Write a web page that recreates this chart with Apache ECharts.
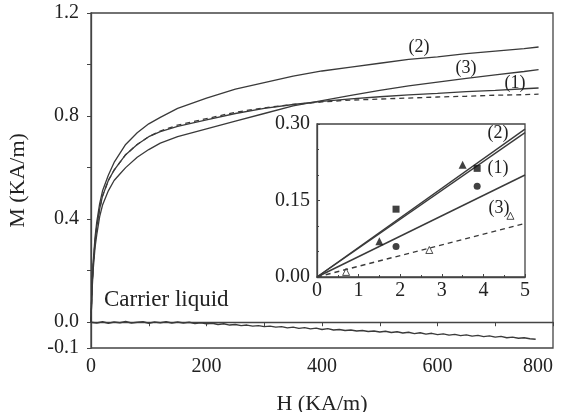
<!DOCTYPE html>
<html><head><meta charset="utf-8">
<script src="https://cdn.jsdelivr.net/npm/echarts@6/dist/echarts.min.js"></script>
<style>html,body{margin:0;padding:0;background:#fff}#c{width:562px;height:412px}</style>
</head><body><div id="c"></div>
<script>
// Main chart data
const H = [0,1,2,4,7,10,15,20,30,40,50,60,80,100,120,150,200,250,300,350,400,450,500,550,600,650,700,750,775];
const curve2 = [0,0.08,0.15,0.24,0.33,0.39,0.46,0.51,0.57,0.62,0.655,0.69,0.735,0.77,0.795,0.83,0.87,0.905,0.93,0.955,0.975,0.99,1.005,1.02,1.03,1.042,1.052,1.062,1.068];
const curve1 = [0,0.08,0.15,0.23,0.31,0.37,0.44,0.49,0.55,0.59,0.62,0.65,0.69,0.72,0.74,0.76,0.785,0.81,0.83,0.845,0.857,0.867,0.875,0.882,0.888,0.895,0.9,0.906,0.909];
const curveFit = [0,0.08,0.15,0.23,0.31,0.37,0.44,0.49,0.55,0.59,0.62,0.65,0.69,0.72,0.742,0.765,0.79,0.815,0.832,0.845,0.855,0.862,0.866,0.870,0.874,0.877,0.881,0.883,0.885];
const curve3 = [0,0.07,0.13,0.21,0.29,0.34,0.41,0.455,0.51,0.55,0.575,0.6,0.64,0.67,0.695,0.72,0.75,0.78,0.81,0.84,0.86,0.88,0.9,0.917,0.932,0.946,0.96,0.973,0.98];
const carrierH = [0,10,20,30,40,50,60,70,80,90,100,110,120,130,140,150,160,170,180,190,200,210,220,230,240,250,260,270,280,290,300,310,320,330,340,350,360,370,380,390,400,410,420,430,440,450,460,470,480,490,500,510,520,530,540,550,560,570,580,590,600,610,620,630,640,650,660,670,680,690,700,710,720,730,740,750,760,770];
const carrier = [0,-0.003,0.002,-0.004,0.001,-0.002,0.003,-0.003,0,0.002,-0.004,0.001,-0.002,0.002,-0.003,0.001,-0.003,0,-0.005,-0.002,-0.006,-0.004,-0.009,-0.006,-0.011,-0.009,-0.013,-0.011,-0.015,-0.013,-0.017,-0.015,-0.019,-0.017,-0.022,-0.019,-0.024,-0.021,-0.026,-0.023,-0.028,-0.025,-0.03,-0.028,-0.032,-0.03,-0.034,-0.032,-0.036,-0.034,-0.038,-0.035,-0.04,-0.037,-0.042,-0.039,-0.044,-0.041,-0.046,-0.043,-0.048,-0.045,-0.05,-0.047,-0.052,-0.049,-0.054,-0.051,-0.056,-0.053,-0.058,-0.055,-0.06,-0.058,-0.062,-0.06,-0.064,-0.066];
// Inset data
const sq = [[1.9,0.133],[3.85,0.213]];
const circ = [[1.9,0.06],[3.85,0.178]];
const triFilled = [[1.5,0.07],[3.5,0.22]];
const triOpen = [[0.7,0.01],[2.7,0.053],[4.65,0.12]];
const lineTri = [[0,0],[5,0.29]];
const lineSq = [[0,0],[5,0.283]];
const lineCirc = [[0,0],[5,0.2]];
const lineOpen = [[0,0],[5,0.105]];
const yMainLabels = [-0.1,0,0.4,0.8,1.2];
const yMainTicks = [-0.1,0,0.2,0.4,0.6,0.8,1.0,1.2];

const zip = (a,b)=>a.map((v,i)=>[v,b[i]]);
const F = 'Liberation Serif';
const C = '#3a3a3a';
const chart = echarts.init(document.getElementById('c'));
const lineS = (data, xi, dash, w) => ({type:'line', xAxisIndex:xi, yAxisIndex:xi, data, symbol:'none', smooth:false,
  lineStyle:{color:C, width:w||1.3, type:dash?[5,4]:'solid'}, z:xi?7:3, silent:true, animation:false});
const txt = (s,x,y,size,align) => ({type:'text', x, y, z:10, style:{text:s, font:size+'px "Liberation Serif"', fill:'#222', align:align||'center', verticalAlign:'middle'}});
chart.setOption({
  animation:false,
  backgroundColor:'#fff',
  grid:[
    {left:91, top:13, width:462, height:335, show:true, borderColor:'#444', borderWidth:1.3, containLabel:false, outerBoundsMode:'none'},
    {left:317, top:124, width:208, height:153, show:true, borderColor:'#444', borderWidth:1.3, backgroundColor:'transparent', containLabel:false, outerBoundsMode:'none'}
  ],
  xAxis:[
    {type:'value', gridIndex:0, min:0, max:800, interval:100,
     axisLine:{lineStyle:{color:'#444', width:1.3}}, splitLine:{show:false},
     axisTick:{length:4, lineStyle:{color:'#444'}},
     axisLabel:{fontFamily:F, fontSize:20, color:'#222', margin:9, alignMaxLabel:'right', formatter:v=> v%200===0? String(v):''},
     name:'H (KA/m)', nameLocation:'middle', nameGap:45, nameTextStyle:{fontFamily:F, fontSize:22, color:'#222'}},
    {type:'value', gridIndex:1, min:0, max:5, interval:1,
     axisLine:{lineStyle:{color:'#444', width:1.3}}, splitLine:{show:false},
     axisTick:{inside:true, length:3, lineStyle:{color:'#444'}},
     minorTick:{show:true, splitNumber:2, length:2, lineStyle:{color:'#444'}},
     axisLabel:{fontFamily:F, fontSize:20, color:'#222', margin:4}}
  ],
  yAxis:[
    {type:'value', gridIndex:0, min:-0.1, max:1.2,
     axisLine:{lineStyle:{color:'#444', width:1.3}}, splitLine:{show:false},
     axisTick:{length:4, customValues:yMainTicks, lineStyle:{color:'#444'}},
     axisLabel:{fontFamily:F, fontSize:20, color:'#222', margin:12, customValues:yMainLabels, formatter:v=>v.toFixed(1)},
     name:'M (KA/m)', nameLocation:'middle', nameGap:62, nameRotate:90, nameTextStyle:{fontFamily:F, fontSize:22, color:'#222'}},
    {type:'value', gridIndex:1, min:0, max:0.3, interval:0.15,
     axisLine:{lineStyle:{color:'#444', width:1.3}}, splitLine:{show:false},
     axisTick:{inside:true, length:3, lineStyle:{color:'#444'}},
     minorTick:{show:true, splitNumber:3, length:2, lineStyle:{color:'#444'}},
     axisLabel:{fontFamily:F, fontSize:20, color:'#222', margin:7, formatter:v=>v.toFixed(2)}}
  ],
  series:[
    lineS(zip(H,curve2),0,false),
    lineS(zip(H,curve1),0,false),
    lineS(zip(H,curveFit),0,true),
    lineS(zip(H,curve3),0,false),
    lineS(zip(carrierH,carrier),0,false,1.4),
    lineS(lineTri,1,false,1.4),
    lineS(lineSq,1,false,1.4),
    lineS(lineCirc,1,false,1.4),
    lineS(lineOpen,1,true,1.4),
    {type:'scatter', xAxisIndex:1, yAxisIndex:1, data:sq, symbol:'rect', symbolSize:7, itemStyle:{color:'#111'}, z:8},
    {type:'scatter', xAxisIndex:1, yAxisIndex:1, data:circ, symbol:'circle', symbolSize:7, itemStyle:{color:'#111'}, z:8},
    {type:'scatter', xAxisIndex:1, yAxisIndex:1, data:triFilled, symbol:'triangle', symbolSize:8, itemStyle:{color:'#111'}, z:8},
    {type:'scatter', xAxisIndex:1, yAxisIndex:1, data:triOpen, symbol:'triangle', symbolSize:7, itemStyle:{color:'#fff', borderColor:'#222', borderWidth:1}, z:8}
  ],
  graphic:[
    txt('(2)',419,47,18),
    txt('(3)',466,68,18),
    txt('(1)',515,83,18),
    txt('Carrier liquid',104,300,23,'left'),
    txt('(2)',498,133,18),
    txt('(1)',498,168,18),
    txt('(3)',499,208,18)
  ]
});
</script></body></html>
